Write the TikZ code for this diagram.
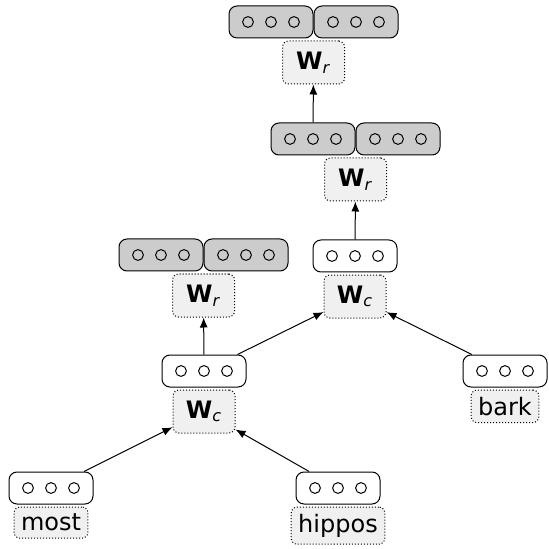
\documentclass[tikz,border=0pt]{standalone}
\usepackage{fontspec}
\setmainfont{DejaVu Sans}
\usetikzlibrary{positioning,arrows.meta}

\tikzset{
  vec/.style={draw, rounded corners=4pt, minimum width=42pt, minimum height=16pt, inner sep=0pt},
  gvec/.style={vec, fill=gray!40},
  op/.style={draw, densely dotted, rounded corners=3pt, fill=gray!12, inner xsep=3.5pt, inner ysep=3.5pt},
  wop/.style={op, minimum width=31pt, minimum height=21.5pt},
  conn/.style={-{Latex[length=5pt,width=4pt]}},
}

% three units inside a vector box
\newcommand\vecunits[1]{%
  \foreach \dx in {-11.5,0,11.5}
    \draw ([xshift=\dx pt]#1.center) circle (2.7pt);}

\begin{document}
\begin{tikzpicture}[x=0.5pt, y=-0.5pt, line width=0.5pt, font=\fontsize{12}{14}\selectfont]
  \useasboundingbox (0,0) rectangle (548,549);

  % Leaves
  \node[vec] (most) at (51,488) {};
  \node[op, below=1pt of most] (mostw) {most};
  \node[vec] (hippos) at (338,488) {};
  \node[op, below=1pt of hippos] (hipposw) {hippos};
  \node[vec] (bark) at (505,371) {};
  \node[op, below=1pt of bark] (barkw) {bark};

  % Composed vectors
  \node[vec] (c1) at (204,371) {};
  \node[wop, below=1pt of c1] (wc1) {\textbf{W}\textsubscript{\textit{c}}};
  \node[vec] (c2) at (355,256) {};
  \node[wop, below=1pt of c2] (wc2) {\textbf{W}\textsubscript{\textit{c}}};

  % Reconstructed pairs
  \node[gvec] (r1a) at (161,255) {};
  \node[gvec, right=0pt of r1a] (r1b) {};
  \node[wop, below=1pt of r1a.south east] (wr1) {\textbf{W}\textsubscript{\textit{r}}};

  \node[gvec] (r2a) at (313,139) {};
  \node[gvec, right=0pt of r2a] (r2b) {};
  \node[wop, below=1pt of r2a.south east] (wr2) {\textbf{W}\textsubscript{\textit{r}}};

  \node[gvec] (r3a) at (271,22) {};
  \node[gvec, right=0pt of r3a] (r3b) {};
  \node[wop, below=1pt of r3a.south east] (wr3) {\textbf{W}\textsubscript{\textit{r}}};

  % Units
  \foreach \v in {most,hippos,bark,c1,c2,r1a,r1b,r2a,r2b,r3a,r3b}
    {\vecunits{\v}}

  % Connections
  \draw[conn] (most) -- (wc1);
  \draw[conn] (hippos) -- (wc1);
  \draw[conn] (c1) -- (wr1);
  \draw[conn] (c1) -- (wc2);
  \draw[conn] (bark) -- (wc2);
  \draw[conn] (c2) -- (wr2);
  \draw[conn] (r2a) -- (wr3);
\end{tikzpicture}
\end{document}
